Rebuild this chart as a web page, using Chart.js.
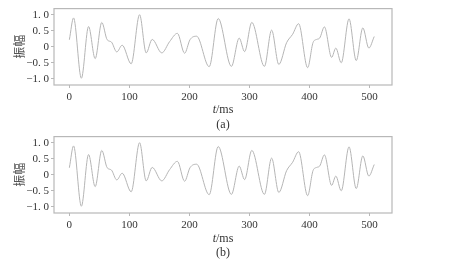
<!DOCTYPE html>
<html>
<head>
<meta charset="utf-8">
<script src="https://cdn.jsdelivr.net/npm/chart.js@4.4.0/dist/chart.umd.min.js"></script>
<style>
  body { margin: 0; background: #fff; }
  #wrap { position: relative; width: 452px; height: 264px; }
  canvas { position: absolute; left: 0; }
  .lbl { position: absolute; font-family: "Liberation Serif", "DejaVu Serif", serif; font-size: 12px; color: #333; transform: translate(-50%, -50%); white-space: nowrap; }
</style>
</head>
<body>
<div id="wrap">
  <canvas id="chartA" width="452" height="130" style="top:0px"></canvas>
  <canvas id="chartB" width="452" height="130" style="top:128px"></canvas>
  <div class="lbl" style="left:223px; top:109px"><i>t</i>/ms</div>
  <div class="lbl" style="left:223px; top:124px">(a)</div>
  <div class="lbl" style="left:223px; top:238px"><i>t</i>/ms</div>
  <div class="lbl" style="left:223px; top:252px">(b)</div>
</div>
<script>
// --- DATOS ---
const tiempos = [0, 7, 20, 32, 43, 54, 63, 70, 79, 88, 103, 117, 128, 138, 154, 167, 180, 192, 201, 212,
  233, 248, 270, 283, 292, 304, 325, 337, 349, 362, 372, 382, 397, 406, 412, 417, 425, 437, 444, 453,
  466, 478, 489, 499, 508];
const amplitudA = [0.22, 0.9, -0.98, 0.63, -0.37, 0.76, 0.22, 0.15, -0.16, 0.05, -0.53, 1.0, -0.19, 0.23, -0.19, 0.16, 0.42, -0.2, 0.22, 0.33,
  -0.62, 0.88, -0.61, 0.27, -0.15, 0.76, -0.61, 0.52, -0.55, 0.13, 0.39, 0.72, -0.65, 0.13, 0.23, 0.27, 0.62, -0.33, -0.04, -0.5,
  0.87, -0.43, 0.59, -0.04, 0.32];
const amplitudB = [0.22, 0.9, -0.98, 0.63, -0.37, 0.76, 0.22, 0.15, -0.16, 0.05, -0.53, 1.0, -0.19, 0.23, -0.19, 0.16, 0.42, -0.2, 0.22, 0.33,
  -0.62, 0.88, -0.61, 0.27, -0.15, 0.76, -0.61, 0.52, -0.55, 0.13, 0.39, 0.72, -0.65, 0.13, 0.23, 0.27, 0.62, -0.33, -0.04, -0.5,
  0.87, -0.43, 0.59, -0.04, 0.32];
const ticksX = [0, 100, 200, 300, 400, 500];
const ticksY = [-1.0, -0.5, 0, 0.5, 1.0];

const SERIF = '"Liberation Serif", "DejaVu Serif", serif';

// dibuja el marco completo alrededor del área del gráfico
const marco = {
  id: 'marco',
  afterDraw(chart) {
    const { ctx, chartArea: a } = chart;
    ctx.save();
    ctx.strokeStyle = '#b8b8b8';
    ctx.lineWidth = 1.2;
    ctx.strokeRect(a.left, a.top, a.right - a.left, a.bottom - a.top);
    ctx.restore();
  }
};

function formatoY(v) {
  if (v === 0) return '0';
  return v.toFixed(1).replace('.', '. ').replace('-', '\u2212');
}

function crearGrafico(canvasId, amplitudes) {
  return new Chart(document.getElementById(canvasId), {
    type: 'line',
    data: {
      datasets: [{
        data: tiempos.map((t, i) => ({ x: t, y: amplitudes[i] })),
        borderColor: '#b5b5b5',
        borderWidth: 1,
        pointRadius: 0,
        cubicInterpolationMode: 'monotone',
        fill: false
      }]
    },
    options: {
      responsive: false,
      animation: false,
      layout: { padding: { top: 7, right: 60, left: 0, bottom: 0 } },
      plugins: { legend: { display: false }, tooltip: { enabled: false } },
      scales: {
        x: {
          type: 'linear',
          min: -25.6,
          max: 537.6,
          afterBuildTicks: s => { s.ticks = ticksX.map(v => ({ value: v })); },
          afterFit: s => { s.height = 45; },
          border: { display: false },
          grid: { drawOnChartArea: false, drawTicks: true, tickLength: 3, color: '#b8b8b8' },
          ticks: { color: '#333', padding: 3, maxRotation: 0, font: { family: SERIF, size: 11 } }
        },
        y: {
          min: -1.19,
          max: 1.19,
          afterBuildTicks: s => { s.ticks = ticksY.map(v => ({ value: v })); },
          afterFit: s => { s.width = 54; },
          border: { display: false },
          grid: { drawOnChartArea: false, drawTicks: true, tickLength: 3, color: '#b8b8b8' },
          ticks: { color: '#333', padding: 2, callback: formatoY, font: { family: SERIF, size: 11 } },
          title: {
            display: true,
            text: '振幅',
            color: '#555',
            align: 'center',
            padding: { top: 12, bottom: 0 },
            font: { family: '"Noto Sans CJK SC", sans-serif', size: 12, weight: 'normal' }
          }
        }
      }
    },
    plugins: [marco]
  });
}

crearGrafico('chartA', amplitudA);
crearGrafico('chartB', amplitudB);
</script>
</body>
</html>
